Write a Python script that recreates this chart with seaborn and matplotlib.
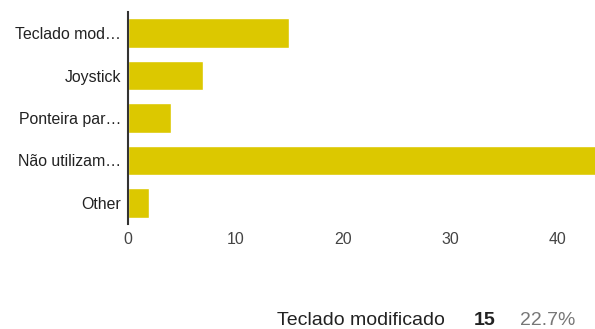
import pandas as pd
import seaborn as sns
import matplotlib.pyplot as plt

sns.set_style("white")
plt.rcParams['font.family'] = ['Liberation Sans', 'DejaVu Sans']

# data
labels = ["Teclado mod…", "Joystick", "Ponteira par…", "Não utilizam…", "Other"]
counts = [15, 7, 4, 44, 2]
x_ticks = [0, 10, 20, 30, 40]

# footer line (first answer detail)
footer_label = "Teclado modificado"
footer_count = "15"
footer_pct = "22.7%"

df = pd.DataFrame({"answer": labels, "count": counts})

W, H = 595, 329
fig = plt.figure(figsize=(W / 100, H / 100), dpi=100)
ax = fig.add_axes([128 / W, 1 - 224 / H, 536.5 / W, 212 / H])

sns.barplot(data=df, y="answer", x="count", orient="h", color="#DCC800",
            saturation=1, width=0.7, ax=ax)

ax.set_xlim(0, 50)
ax.set_ylim(4.5, -0.5)
ax.set_xticks(x_ticks)
ax.set_xlabel("")
ax.set_ylabel("")
for s in ["top", "right", "bottom"]:
    ax.spines[s].set_visible(False)
ax.spines["left"].set_color("#333333")
ax.spines["left"].set_linewidth(1.5)
ax.tick_params(axis="y", length=0, pad=5, labelsize=11.4, labelcolor="#222222")
ax.tick_params(axis="x", length=0, pad=6, labelsize=11.4, labelcolor="#444444")

fig.text(277 / W, 1 - 325 / H, footer_label, fontsize=14, color="#222222", va="baseline")
fig.text(474 / W, 1 - 325 / H, footer_count, fontsize=14, color="#222222",
         fontweight="bold", va="baseline")
fig.text(520 / W, 1 - 325 / H, footer_pct, fontsize=14, color="#777777", va="baseline")

fig.savefig("out.png", dpi=100)
